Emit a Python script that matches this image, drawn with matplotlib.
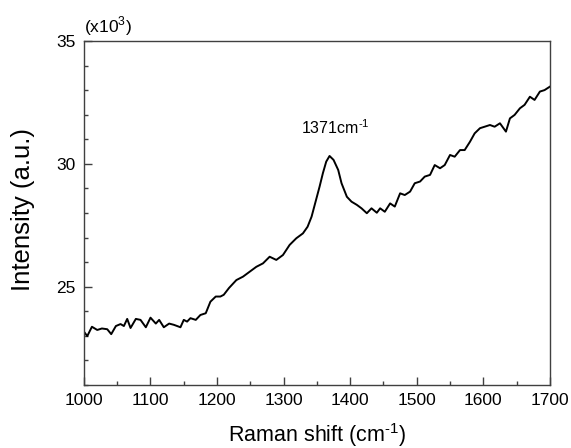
import matplotlib
matplotlib.use("Agg")
import matplotlib.pyplot as plt
from matplotlib.ticker import MultipleLocator

plt.rcParams['font.family'] = ['Liberation Sans', 'DejaVu Sans']
plt.rcParams['mathtext.fontset'] = 'custom'
plt.rcParams['mathtext.rm'] = 'Liberation Sans'

# Raman shift (cm^-1) and intensity (x10^3 counts)
shift = [1000, 1005, 1012, 1020, 1027, 1035, 1041, 1048, 1055, 1060,
         1065, 1070, 1078, 1085, 1093, 1100, 1108, 1113, 1120, 1128,
         1135, 1145, 1150, 1155, 1160, 1168, 1175, 1183, 1190, 1198,
         1205, 1210, 1218, 1229, 1239, 1249, 1259, 1269, 1279, 1289,
         1299, 1309, 1319, 1329, 1336, 1342, 1348, 1354, 1359, 1364,
         1369, 1375, 1382, 1387, 1395, 1402, 1410, 1417, 1425, 1432,
         1440, 1445, 1452, 1460, 1467, 1475, 1482, 1490, 1497, 1505,
         1512, 1520, 1527, 1535, 1542, 1550, 1557, 1565, 1572, 1580,
         1587, 1595, 1602, 1610, 1617, 1625, 1634, 1640, 1647, 1655,
         1662, 1670, 1677, 1685, 1692, 1700]
intensity = [23.17, 22.99, 23.37, 23.24, 23.30, 23.27, 23.07, 23.40, 23.48, 23.40,
             23.69, 23.32, 23.69, 23.65, 23.35, 23.74, 23.50, 23.65, 23.35, 23.50,
             23.45, 23.35, 23.65, 23.58, 23.72, 23.65, 23.85, 23.92, 24.39, 24.60,
             24.60, 24.67, 24.95, 25.27, 25.41, 25.61, 25.81, 25.95, 26.22, 26.09,
             26.29, 26.70, 26.97, 27.17, 27.44, 27.85, 28.46, 29.07, 29.62, 30.09,
             30.32, 30.16, 29.75, 29.21, 28.66, 28.46, 28.33, 28.19, 27.99, 28.19,
             28.01, 28.19, 28.05, 28.39, 28.26, 28.80, 28.73, 28.87, 29.21, 29.28,
             29.48, 29.55, 29.95, 29.82, 29.95, 30.36, 30.29, 30.56, 30.56, 30.90,
             31.24, 31.45, 31.51, 31.58, 31.51, 31.65, 31.31, 31.85, 31.99, 32.26,
             32.40, 32.73, 32.60, 32.94, 33.00, 33.14]

peak_label = r"1371cm$^{\text{-}1}$"
peak_pos = (1377, 31.1)

fig = plt.figure(figsize=(5.71, 4.48), dpi=100)
ax = fig.add_axes([0.147, 0.1406, 0.816, 0.768])

ax.plot(shift, intensity, color='black', lw=1.4)

ax.set_xlim(1000, 1700)
ax.set_ylim(21, 35)
ax.xaxis.set_major_locator(MultipleLocator(100))
ax.xaxis.set_minor_locator(MultipleLocator(50))
ax.yaxis.set_major_locator(MultipleLocator(5))
ax.yaxis.set_minor_locator(MultipleLocator(1))
ax.tick_params(which='both', direction='in', top=False, right=False,
               color='#404040', width=1.0)
ax.tick_params(which='major', length=6, labelsize=12.5, pad=6)
ax.tick_params(which='minor', length=3)
for sp in ax.spines.values():
    sp.set_color('#404040')
    sp.set_linewidth(1.0)

ax.set_xlabel(r"Raman shift (cm$^{\text{-}1}$)", fontsize=15.5)
ax.xaxis.set_label_coords(0.5, -0.105)
ax.set_ylabel("Intensity (a.u.)", fontsize=18.5)
ax.yaxis.set_label_coords(-0.105, 0.51)

ax.text(peak_pos[0], peak_pos[1], peak_label, ha='center', va='bottom', fontsize=11.5)
ax.text(0.0, 1.01, r"(x10$^{3}$)", transform=ax.transAxes, ha='left', va='bottom', fontsize=12.5)

fig.savefig("out.png", dpi=100)
